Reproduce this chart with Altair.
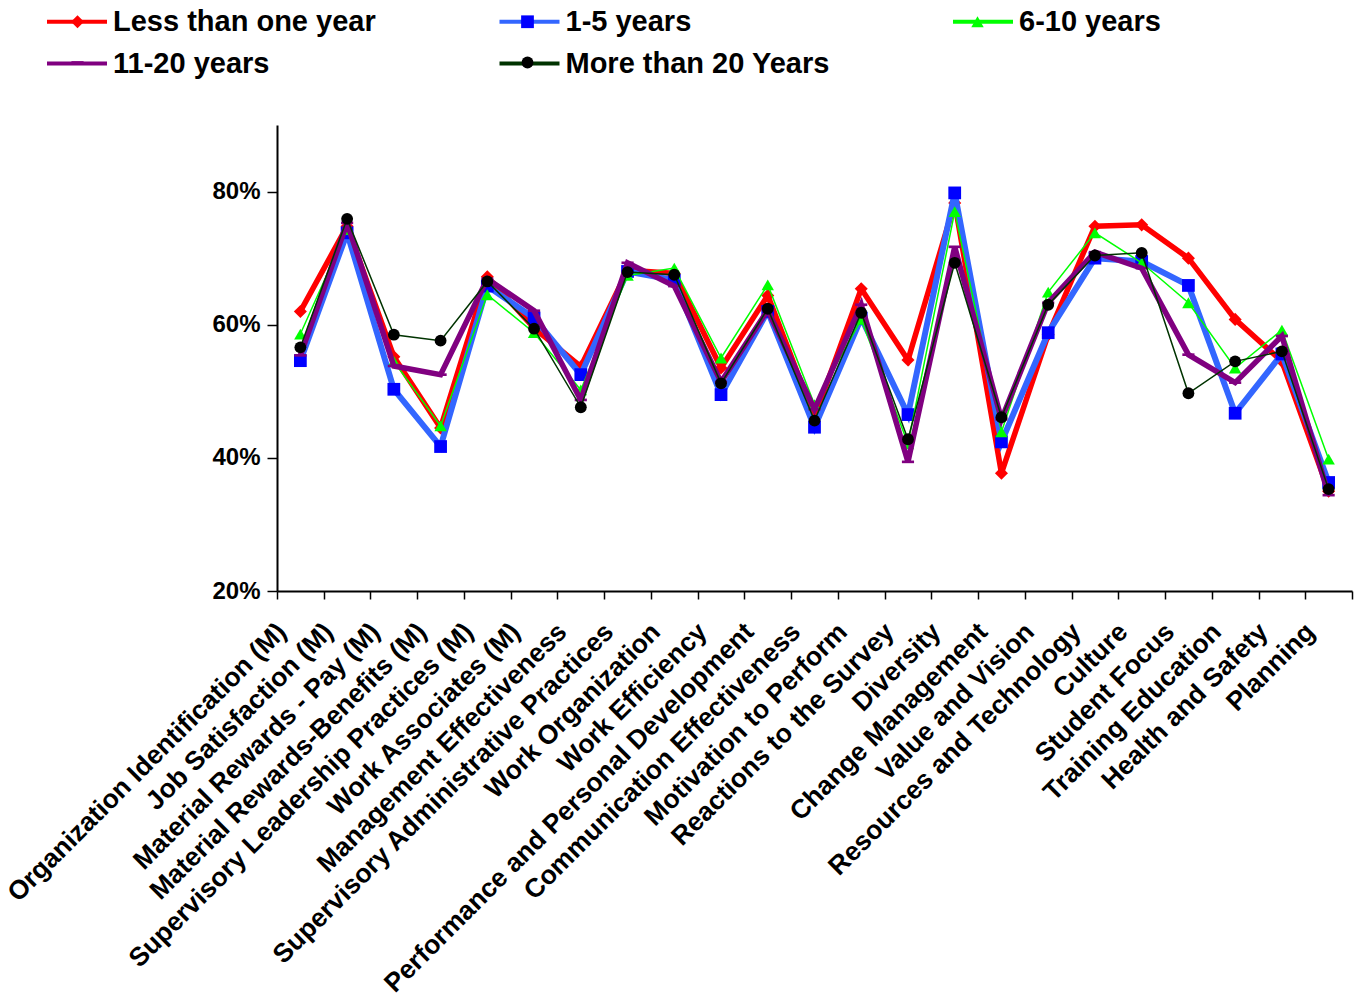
import altair as alt
import pandas as pd

categories = [
    "Organization Identification (M)",
    "Job Satisfaction (M)",
    "Material Rewards - Pay (M)",
    "Material Rewards-Benefits (M)",
    "Supervisory Leadership Practices (M)",
    "Work Associates (M)",
    "Management Effectiveness",
    "Supervisory Administrative Practices",
    "Work Organization",
    "Work Efficiency",
    "Performance and Personal Development",
    "Communication Effectiveness",
    "Motivation to Perform",
    "Reactions to the Survey",
    "Diversity",
    "Change Management",
    "Value and Vision",
    "Resources and Technology",
    "Culture",
    "Student Focus",
    "Training Education",
    "Health and Safety",
    "Planning",
]

series_names = [
    "Less than one year",
    "1-5 years",
    "6-10 years",
    "11-20 years",
    "More than 20 Years",
]

# Percent favourable per category, one list per tenure group
less_than_one = [62.0, 74.8, 55.2, 44.5, 67.2, 59.5, 53.7, 68.2, 67.7, 53.5, 64.4, 46.1,
                 65.4, 54.7, 78.3, 37.7, 58.5, 74.8, 75.0, 70.0, 60.8, 54.5, 35.0]
one_to_five = [54.6, 73.8, 50.3, 41.7, 65.8, 61.0, 52.5, 68.0, 66.7, 49.5, 62.0, 44.6,
               61.0, 46.5, 79.8, 42.4, 58.8, 70.0, 69.5, 65.9, 46.7, 55.6, 36.3]
six_to_ten = [58.6, 74.3, 54.5, 44.8, 64.5, 58.8, 50.2, 67.4, 68.5, 55.0, 66.0, 48.0,
              60.8, 42.1, 77.0, 43.9, 64.9, 73.8, 69.3, 63.3, 53.5, 59.2, 39.8]
eleven_to_twenty = [55.4, 75.3, 53.8, 52.5, 66.9, 62.1, 48.7, 69.3, 65.8, 51.4, 62.2, 47.3,
                    63.0, 39.4, 71.7, 45.8, 63.3, 70.9, 68.5, 55.5, 51.3, 58.3, 34.4]
over_twenty = [56.6, 75.9, 58.5, 57.6, 66.5, 59.4, 47.6, 67.9, 67.5, 51.2, 62.4, 45.6,
               61.8, 42.8, 69.3, 46.1, 63.0, 70.4, 70.8, 49.7, 54.5, 56.0, 35.3]

series_values = [less_than_one, one_to_five, six_to_ten, eleven_to_twenty, over_twenty]

# Styling per series
line_colors = ["#FF0000", "#3366FF", "#00FF00", "#800080", "#003300"]
line_widths = [5.5, 6, 1.5, 5.5, 1.5]
marker_keys = ["a", "b", "c", "d", "e"]
marker_colors = ["#FF0000", "#0000FF", "#00FF00", "#800080", "#000000"]
marker_shapes = ["diamond", "square", "triangle-up", "M-1,-0.22H1V0.22H-1Z", "circle"]
marker_sizes = [170, 140, 180, 289, 150]

rows = []
for name, key, vals in zip(series_names, marker_keys, series_values):
    for cat, v in zip(categories, vals):
        rows.append({"category": cat, "series": name, "key": key, "value": v / 100.0})
df = pd.DataFrame(rows)

FONT = "Liberation Sans"

x_enc = alt.X(
    "category:N",
    sort=categories,
    scale=alt.Scale(type="band", domain=categories, paddingInner=0, paddingOuter=0),
    axis=alt.Axis(
        title=None,
        labelAngle=-45,
        labelAlign="right",
        labelBaseline="alphabetic",
        labelPadding=34,
        labelOffset=-13,
        labelFont=FONT,
        labelFontSize=26.5,
        labelFontWeight="bold",
        labelColor="black",
        labelLimit=800,
        labelOverlap=False,
        tickBand="extent",
        tickSize=8,
        tickColor="black",
        tickWidth=1.5,
        domainColor="black",
        domainWidth=2,
    ),
)

y_enc = alt.Y(
    "value:Q",
    scale=alt.Scale(domain=[0.2, 0.9], nice=False, zero=False),
    axis=alt.Axis(
        title=None,
        values=[0.2, 0.4, 0.6, 0.8],
        format=".0%",
        grid=False,
        tickSize=10,
        tickColor="black",
        tickWidth=1.5,
        labelPadding=7,
        labelFont=FONT,
        labelFontSize=24,
        labelFontWeight="bold",
        labelColor="black",
        domainColor="black",
        domainWidth=2,
    ),
)

line_legend = alt.Legend(
    title=None,
    orient="none",
    legendX=-214.5,
    legendY=-118,
    direction="horizontal",
    columns=3,
    gridAlign="each",
    columnPadding=114.5,
    rowPadding=12,
    # a long horizontal stroke drawn wider than its 20px symbol box
    symbolType="M-3,0H3",
    symbolSize=400,
    symbolStrokeWidth=4,
    labelOffset=21.5,
    labelFont=FONT,
    labelFontSize=29,
    labelFontWeight="bold",
    labelColor="black",
    labelLimit=800,
    padding=0,
)

marker_legend = alt.Legend(
    title=None,
    orient="none",
    legendX=-214,
    legendY=-118,
    direction="horizontal",
    columns=3,
    gridAlign="all",
    columnPadding=421,
    rowPadding=11,
    labelExpr="''",
    labelOffset=0,
    labelFontSize=29,
    padding=0,
)

color_enc = alt.Color(
    "series:N",
    scale=alt.Scale(domain=series_names, range=line_colors),
    legend=line_legend,
)
fill_enc = alt.Fill(
    "key:N",
    scale=alt.Scale(domain=marker_keys, range=marker_colors),
    legend=marker_legend,
)
shape_enc = alt.Shape(
    "key:N",
    scale=alt.Scale(domain=marker_keys, range=marker_shapes),
)
size_enc = alt.Size(
    "key:N",
    scale=alt.Scale(domain=marker_keys, range=marker_sizes),
)

# Each series draws its line and then its markers, later series on top
layers = []
for name, lw in zip(series_names, line_widths):
    base = alt.Chart(df).transform_filter(alt.datum.series == name)
    layers.append(
        base.mark_line(strokeWidth=lw, strokeJoin="miter").encode(
            x=x_enc, y=y_enc, color=color_enc
        )
    )
    layers.append(
        base.mark_point(filled=True, opacity=1).encode(
            x=x_enc, y=y_enc, fill=fill_enc, shape=shape_enc, size=size_enc
        )
    )

chart = (
    alt.layer(*layers)
    .properties(
        width=1075,
        height=466,
        autosize=alt.AutoSizeParams(type="none"),
        padding={"left": 277, "top": 125, "right": 10, "bottom": 405},
        background="white",
    )
    .configure_view(stroke=None)
)

chart.save("out.html", embed_options={"renderer": "svg", "actions": False})
